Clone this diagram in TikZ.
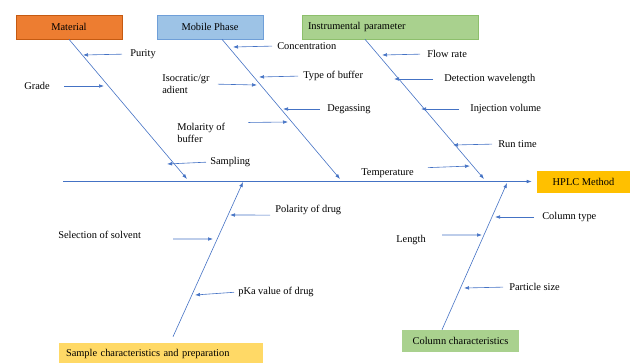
\documentclass[tikz,border=0pt]{standalone}
\usepackage{fontspec}
\setmainfont{Liberation Serif}
\usetikzlibrary{arrows.meta}
\definecolor{bonecol}{HTML}{4472C4}
\definecolor{matfill}{HTML}{ED7D31}
\definecolor{matline}{HTML}{C55A11}
\definecolor{mobfill}{HTML}{9DC3E6}
\definecolor{mobline}{HTML}{6F9FD8}
\definecolor{insfill}{HTML}{A9D18E}
\definecolor{insline}{HTML}{8DBF6C}
\definecolor{hplcfill}{HTML}{FFC000}
\definecolor{sampfill}{HTML}{FFD966}
\tikzstyle{cat}=[shape=rectangle,
                 inner sep=0pt,
                 minimum height=24pt]
\tikzstyle{lbl}=[inner sep=0pt,
                 align=left]
\tikzstyle{bone}=[draw=bonecol,
                  ->]

\begin{document}
\begin{tikzpicture}[x=1pt,y=-1pt,>={Latex[length=5pt,width=3.6pt]},line width=0.6pt,
                    font=\fontsize{10.4}{12.5}\selectfont]
\useasboundingbox (0,0) rectangle (630,362);

% category boxes
\node[cat,fill=matfill,draw=matline,minimum width=106pt] (mat) at (69,27) {Material};
\node[cat,fill=mobfill,draw=mobline,minimum width=106pt] (mob) at (210,27) {Mobile Phase};
\node[cat,fill=insfill,draw=insline,text width=164pt,inner xsep=6pt,align=left] (ins) at (390,27) {Instrumental parameter};
\node[cat,fill=hplcfill,minimum width=93pt,minimum height=22pt] (hplc) at (583.5,181.5) {HPLC Method};
\node[cat,fill=sampfill,minimum height=22pt,text width=190pt,inner xsep=7pt,align=left] (samp) at (161,354) {Sample characteristics and preparation};
\node[cat,fill=insfill,minimum width=117pt,minimum height=22pt] (col) at (460.5,341) {Column characteristics};

% spine
\coordinate (tail) at (63,181.5);
\draw[bone,shorten >=5pt] (tail) -- (hplc);

% bones
\coordinate (m0) at (187,179);
\coordinate (p0) at (340,179);
\coordinate (i0) at (484,179);
\coordinate (s0) at (243,182);
\coordinate (c0) at (507,183);
\draw[bone] (mat.south) -- (m0);
\draw[bone] ([xshift=12pt]mob.south) -- (p0);
\draw[bone] ([xshift=-25pt]ins.south) -- (i0);
\draw[bone] ([xshift=12pt,yshift=6pt]samp.north) -- (s0);
\draw[bone] ([xshift=-18.5pt]col.north) -- (c0);

% causes: material
\node[lbl,anchor=west] (pury) at (130,54)  {Purity};
\node[lbl,anchor=west] (grad) at (24,86)   {Grade};
\node[lbl,anchor=west] (smpl) at (210,162) {Sampling};
\coordinate (pur) at (83,55);
\coordinate (grd) at (104,86);
\coordinate (smp) at (167,164);

% causes: mobile phase
\node[lbl,anchor=west] (conc) at (277,46)  {Concentration};
\node[lbl,anchor=west] (tbuf) at (303,76)  {Type of buffer};
\node[lbl,anchor=west] (isoc) at (162,84)  {Isocratic/gr\\adient};
\node[lbl,anchor=west] (dgas) at (327,109) {Degassing};
\node[lbl,anchor=west] (molb) at (177,133) {Molarity of\\buffer};
\coordinate (con) at (233,47);
\coordinate (tob) at (259,77);
\coordinate (iso) at (257,85);
\coordinate (deg) at (283,109);
\coordinate (mol) at (288,122);

% causes: instrumental parameter
\node[lbl,anchor=west] (flow) at (427,54)  {Flow rate};
\node[lbl,anchor=west] (detw) at (444,79)  {Detection wavelength};
\node[lbl,anchor=west] (injv) at (470,109) {Injection volume};
\node[lbl,anchor=west] (runt) at (498,144) {Run time};
\node[lbl,anchor=west] (temp) at (361,173) {Temperature};
\coordinate (flo) at (382,55);
\coordinate (det) at (394,79);
\coordinate (inj) at (421,109);
\coordinate (run) at (453,145);
\coordinate (tmp) at (470,166);

% causes: sample
\node[lbl,anchor=west] (pold) at (275,210) {Polarity of drug};
\node[lbl,anchor=west] (sels) at (58,235)  {Selection of solvent};
\node[lbl,anchor=west] (pkav) at (238,292) {pKa value of drug};
\coordinate (pol) at (230,215);
\coordinate (sel) at (213,239);
\coordinate (pka) at (195,295);

% causes: column
\node[lbl,anchor=west] (ctyp) at (542,217) {Column type};
\node[lbl,anchor=west] (lgth) at (396,240) {Length};
\node[lbl,anchor=west] (psiz) at (509,287) {Particle size};
\coordinate (cty) at (495,217);
\coordinate (len) at (482,235);
\coordinate (psz) at (464,288);

% small arrows
\draw[bone,shorten <=8pt]  (pury.west) -- (pur);
\draw[bone,shorten <=14pt] (grad.east) -- (grd);
\draw[bone,shorten <=4pt]  (smpl.west) -- (smp);
\draw[bone,shorten <=5pt]  (conc.west) -- (con);
\draw[bone,shorten <=5pt]  (tbuf.west) -- (tob);
\draw[bone,shorten <=8pt]  (isoc.east) -- (iso);
\draw[bone,shorten <=7pt]  (dgas.west) -- (deg);
\draw[bone,shorten <=23pt] (molb.north east) -- (mol);
\draw[bone,shorten <=7pt]  (flow.west) -- (flo);
\draw[bone,shorten <=11pt] (detw.west) -- (det);
\draw[bone,shorten <=11pt] (injv.west) -- (inj);
\draw[bone,shorten <=6pt]  (runt.west) -- (run);
\draw[bone,shorten <=14pt] (temp.north east) -- (tmp);
\draw[bone,shorten <=5pt]  (pold.south west) -- (pol);
\draw[bone,shorten <=32pt] (sels.south east) -- (sel);
\draw[bone,shorten <=4pt]  (pkav.west) -- (pka);
\draw[bone,shorten <=8pt]  (ctyp.west) -- (cty);
\draw[bone,shorten <=16pt] (lgth.north east) -- (len);
\draw[bone,shorten <=6pt]  (psiz.west) -- (psz);
\end{tikzpicture}
\end{document}
